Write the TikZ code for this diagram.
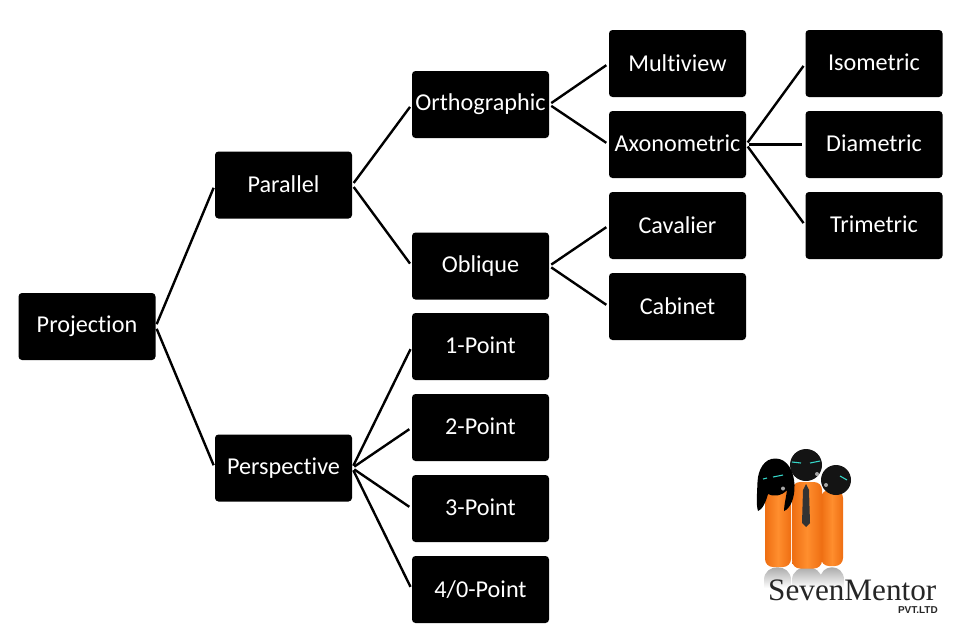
\documentclass[tikz,border=0pt]{standalone}
\usepackage{fontspec}
\setmainfont[Ligatures=NoCommon]{Carlito}
\newfontfamily\logofont{Liberation Serif}
\newfontfamily\logosans{Liberation Sans}
\definecolor{logoorange}{HTML}{F57A1E}
\definecolor{logolight}{HTML}{FF8E2E}
\definecolor{logodark}{HTML}{EE6E12}
\definecolor{eyecyan}{HTML}{35D6C8}
\newcommand{\boxlabel}[1]{\raisebox{1.8pt}{#1}}
\tikzset{
  box/.style={fill=black,text=white,rounded corners=3.5pt,minimum width=137pt,minimum height=67pt,inner sep=0pt,font=\fontsize{24.2}{26}\selectfont,anchor=center},
  link/.style={draw=black,line width=2.4pt,shorten <=2.5pt,shorten >=3pt},
  bar/.style={rounded corners=8pt,left color=logodark,right color=logodark,middle color=logolight},
  headball/.style={fill=black!92},
  eye/.style={draw=eyecyan,line width=1.1pt},
  reflect/.style={top color=black!40,bottom color=white},
}
\begin{document}
\begin{tikzpicture}[x=1pt,y=-1pt]
\useasboundingbox (0,0) rectangle (960,635);
\node[box] (proj) at (87,326.5) {\boxlabel{Projection}};
\node[box] (par) at (283.5,185) {\boxlabel{Parallel}};
\node[box] (persp) at (283.5,468) {\boxlabel{Perspective}};
\node[box] (orth) at (480.5,104.5) {\boxlabel{Orthographic}};
\node[box] (obl) at (480.5,266) {\boxlabel{Oblique}};
\node[box] (p1) at (480.5,346.5) {\boxlabel{1-Point}};
\node[box] (p2) at (480.5,427.5) {\boxlabel{2-Point}};
\node[box] (p3) at (480.5,508.5) {\boxlabel{3-Point}};
\node[box] (p4) at (480.5,589.5) {\boxlabel{4/0-Point}};
\node[box] (multi) at (677.5,63.5) {\boxlabel{Multiview}};
\node[box] (axo) at (677.5,144.5) {\boxlabel{Axonometric}};
\node[box] (cav) at (677.5,225.5) {\boxlabel{Cavalier}};
\node[box] (cab) at (677.5,306.5) {\boxlabel{Cabinet}};
\node[box] (iso) at (874,63.5) {\boxlabel{Isometric}};
\node[box] (dia) at (874,144.5) {\boxlabel{Diametric}};
\node[box] (tri) at (874,225.5) {\boxlabel{Trimetric}};
\foreach \a/\b in {proj/par,proj/persp,par/orth,par/obl,orth/multi,orth/axo,axo/iso,axo/dia,axo/tri,obl/cav,obl/cab,persp/p1,persp/p2,persp/p3,persp/p4}
  \draw[link] (\a.east) -- (\b.west);
% logo reflections
\shade[reflect] (764,580) .. controls (764,563) and (791,563) .. (791,580) -- (791,588) -- (764,588) -- cycle;
\shade[reflect] (792,580) .. controls (792,563) and (822,563) .. (822,580) -- (822,588) -- (792,588) -- cycle;
\shade[reflect] (820,580) .. controls (820,563) and (844,563) .. (844,580) -- (844,588) -- (820,588) -- cycle;
% logo bodies
\shade[bar] (765,488) rectangle (791,567);
\shade[bar] (821,490) rectangle (843,566);
\shade[bar] (792,482) rectangle (822,568.5);
\fill[black!80] (806,484) -- (809,490) -- (810,523) -- (806,527) -- (802,523) -- (803,490) -- cycle;
% logo heads
\fill[headball] (806,465) circle (16);
\fill[headball] (836,480) circle (15);
\fill[black] (776,458.5) .. controls (764,458) and (758,470) .. (757.5,482) .. controls (757,495) and (756,505) .. (758,511) .. controls (762,510) and (766,502) .. (768,494) .. controls (773,497) and (782,496) .. (787,490) .. controls (786,498) and (784,505) .. (784,511) .. controls (790,509) and (795,498) .. (794.5,485) .. controls (794,472) and (788,459) .. (776,458.5) -- cycle;
\fill[black!35] (783,488.5) circle (2);
\fill[black!35] (817,474) circle (2);
\fill[black!35] (826,485) circle (2);
\draw[eye] (792,462) -- (801,463);
\draw[eye] (810,463) -- (820,461);
\draw[eye] (763,479) -- (767,478);
\draw[eye] (773,477) -- (783,475);
\draw[eye] (840,476) -- (847,480);
% logo text
\node[anchor=base west,inner sep=0pt,font=\logofont\fontsize{31.2}{33}\selectfont,text=black!85] (logotext) at (768,600) {SevenMentor};
\node[anchor=base east,inner sep=0pt,font=\logosans\bfseries\fontsize{10}{11}\selectfont,text=black!85] (logosub) at (938,613.5) {PVT.LTD};
\end{tikzpicture}
\end{document}
